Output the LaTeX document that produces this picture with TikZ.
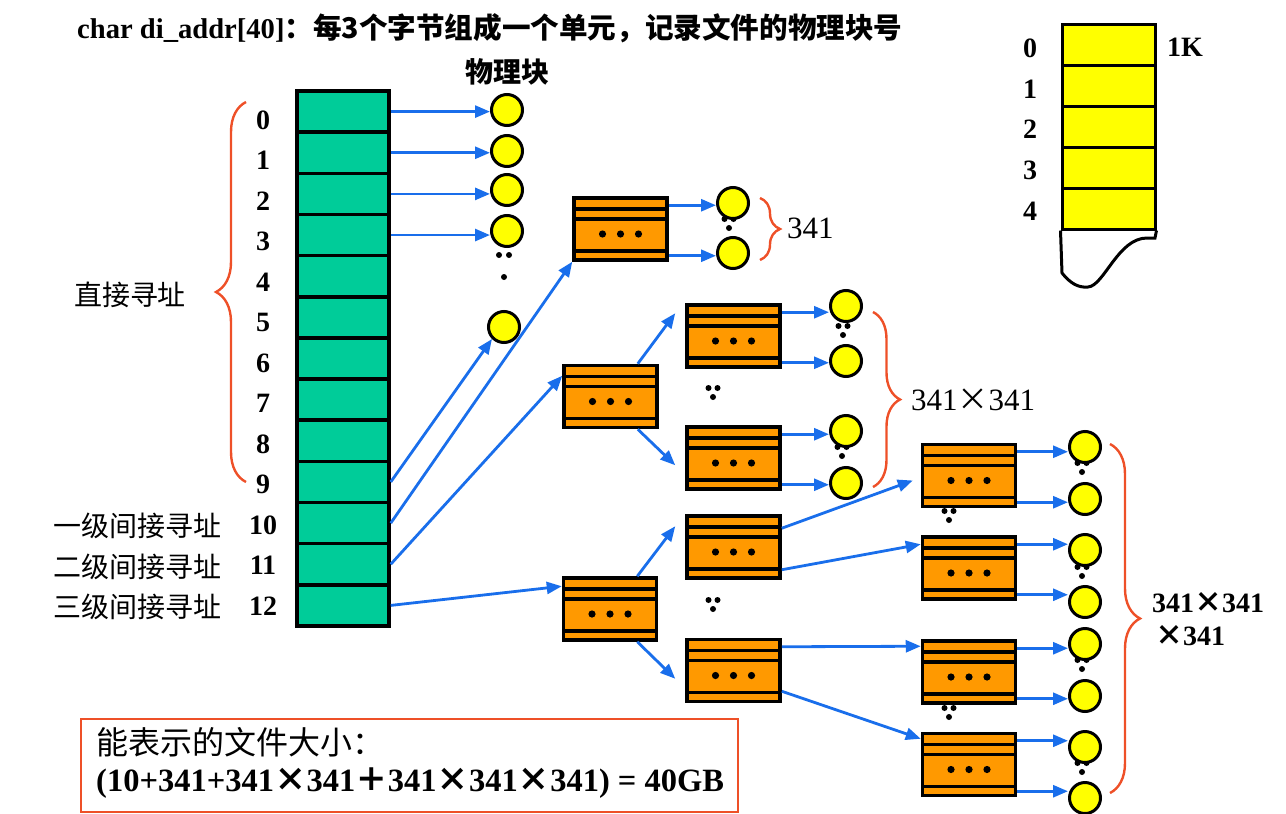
\documentclass[tikz,border=0pt]{standalone}
\usepackage{fontspec}
\setmainfont{Liberation Serif}
\newfontfamily\cjk{Noto Sans CJK SC}
\usetikzlibrary{
  arrows.meta, % Pfeilspitzen
  decorations.pathreplacing % Klammern
}
\definecolor{cellgreen}{RGB}{0,204,153}
\definecolor{blkorange}{RGB}{255,153,0}
\definecolor{blkyellow}{RGB}{255,255,0}
\definecolor{linkblue}{RGB}{25,110,235}
\definecolor{bracered}{RGB}{238,80,40}

\tikzset{
  vdots3/.pic={\fill[black] (-4.5,0) circle[radius=3pt] (4.5,0) circle[radius=3pt] (0,9) circle[radius=3pt];}
}

\begin{document}
\begin{tikzpicture}[
    x=1pt, y=-1pt, % Pixelkoordinaten
    >={Triangle[length=15pt,width=12pt]}, % Pfeilspitze
    cell/.style={draw, line width=3.5pt, fill=cellgreen, minimum width=92pt, minimum height=41.15pt, inner sep=0pt},
    ycell/.style={draw, line width=3pt, fill=blkyellow, minimum width=93pt, minimum height=41pt, inner sep=0pt},
    block/.style={circle, draw, line width=3pt, fill=blkyellow, minimum size=31pt, inner sep=0pt}, % physischer Block
    idxblock/.style={draw, line width=3.5pt, fill=blkorange, minimum width=93pt, minimum height=62pt, inner sep=0pt,
      path picture={
        \draw[black, line width=3.5pt]
          ([yshift=-11pt]path picture bounding box.north west) -- ([yshift=-11pt]path picture bounding box.north east)
          ([yshift=-21pt]path picture bounding box.north west) -- ([yshift=-21pt]path picture bounding box.north east)
          ([yshift=9pt]path picture bounding box.south west) -- ([yshift=9pt]path picture bounding box.south east);
        \foreach \d in {-18,0,18}
          \fill[black] ([shift={(\d pt,-5pt)}]path picture bounding box.center) circle[radius=3.6pt];
      }}, % Indexblock
    link/.style={->, linkblue, line width=2.8pt}, % Zeiger
    bracket/.style={bracered, line width=2.4pt, decorate, decoration={brace, amplitude=#1}},
    num/.style={inner sep=0pt, font=\fontsize{28}{30}\selectfont\bfseries},
    txt/.style={inner sep=0pt, font=\fontsize{28}{30}\selectfont\cjk},
  ]
  \useasboundingbox (0,0) rectangle (1286,814);

  % Titel
  \node[inner sep=0pt, anchor=west, font=\fontsize{28.6}{30}\selectfont\bfseries] (title) at (77,28)
    {char di\_addr[40]{\cjk ：每3个字节组成一个单元，记录文件的物理块号}};
  \node[inner sep=0pt, font=\fontsize{28}{30}\selectfont\bfseries\cjk] (wlk) at (507,72) {物理块};

  % Adressfeld di_addr
  \foreach \i in {0,...,12}
    \node[cell] (r\i) at (343, {111.6+41.15*\i}) {};
  \foreach \i in {0,...,12}
    \node[num] (n\i) at (263, {120+40.5*\i}) {\i};

  \node[txt] (direct) at (130,295) {直接寻址};
  \node[txt, anchor=east] (ind1) at (222,526) {一级间接寻址};
  \node[txt, anchor=east] (ind2) at (222,567) {二级间接寻址};
  \node[txt, anchor=east] (ind3) at (222,607) {三级间接寻址};
  \draw[bracket=30pt] (246,482) -- (246,102);

  % direkte Bloecke
  \fill (499,255) circle[radius=3pt] (509,255) circle[radius=3pt] (504,277) circle[radius=3pt];
  \node[block] (p0) at (507,110) {};
  \node[block] (p1) at (507,151) {};
  \node[block] (p2) at (507,190) {};
  \node[block] (p3) at (507,231) {};
  \node[block] (p4) at (504,327) {};
  \foreach \i in {0,...,3}
    \draw[link] (r\i.east) -- (r\i.east -| p\i.west);

  % Indexbloecke
  \node[idxblock] (s1) at (620.5,229) {};
  \node[idxblock] (d1) at (610.5,396.5) {};
  \node[idxblock] (d2) at (733.5,336) {};
  \node[idxblock] (d3) at (733.5,458) {};
  \node[idxblock] (t1) at (610,609) {};
  \node[idxblock] (t2) at (733.5,547) {};
  \node[idxblock] (t3) at (733.5,670.5) {};
  \node[idxblock] (u1) at (969,475.5) {};
  \node[idxblock] (u2) at (969,568) {};
  \node[idxblock] (u3) at (969,672) {};
  \node[idxblock] (u4) at (969,764.5) {};

  % Punkte
  \foreach \p in {(729,219), (843,326), (842,447), (713,388), (713,600),
                  (949,511), (949,708), (1082,463), (1082,567), (1082,660), (1082,763)}
    \pic at \p {vdots3};

  % Datenbloecke
  \node[block] (q0) at (733,203) {};
  \node[block] (q1) at (733,253) {};
  \node[block] (c0) at (846,306) {};
  \node[block] (c1) at (846,361) {};
  \node[block] (c2) at (846,431) {};
  \node[block] (c3) at (846,483) {};
  \foreach \k/\yy in {0/447, 1/499, 2/550, 3/602, 4/644, 5/696, 6/747, 7/798}
    \node[block] (v\k) at (1085,\yy) {};

  \foreach \bx/\m/\n in {s1/q0/q1, d2/c0/c1, d3/c2/c3, u1/v0/v1, u2/v2/v3, u3/v4/v5, u4/v6/v7}{
    \coordinate (\bx a) at ([yshift=-9pt]\bx.north east);
    \coordinate (\bx b) at ([yshift=6pt]\bx.south east);
    \draw[link] (\bx a) -- (\bx a -| \m.west);
    \draw[link] (\bx b) -- (\bx b -| \n.west);
  }

  % Zeiger aus di_addr
  \draw[link] (r9.east) -- (p4.south west);
  \draw[link] (r10.east) -- (s1.south west);
  \draw[link] (r11.east) -- ([yshift=-12pt]d1.north west);
  \draw[link] (r12.east) -- ([yshift=-10pt]t1.north west);

  % Zeiger zwischen Indexbloecken
  \draw[link] ([xshift=-21pt]d1.north east) -- ([shift={(-10pt,-10pt)}]d2.north west);
  \draw[link] ([xshift=-21pt]d1.south east) -- ([shift={(-10pt,-40pt)}]d3.north west);
  \draw[link] ([xshift=-21pt]t1.north east) -- ([shift={(-10pt,-12pt)}]t2.north west);
  \draw[link] ([xshift=-21pt]t1.south east) -- ([shift={(-10pt,-41pt)}]t3.north west);
  \draw[link] ([yshift=-14pt]t2.north east) -- ([shift={(-8pt,-5pt)}]u1.west);
  \draw[link] ([yshift=10pt]t2.south east) -- ([yshift=-9pt]u2.north west);
  \draw[link] ([yshift=-9pt]t3.north east) -- ([yshift=-7pt]u3.north west);
  \draw[link] ([yshift=12pt]t3.south east) -- ([yshift=-7pt]u4.north west);

  % Klammern
  \draw[bracket=20pt] (760,198) -- (760,260);
  \node[inner sep=0pt, anchor=west, font=\fontsize{31}{32}\selectfont] (cnt1) at (787,228) {341};
  \draw[bracket=27pt] (873,312) -- (873,487);
  \node[inner sep=0pt, anchor=west, font=\fontsize{31}{32}\selectfont] (cnt2) at (911,400) {341{\cjk ×}341};
  \draw[bracket=30pt] (1110,444) -- (1110,793);
  \node[inner sep=0pt, anchor=west, font=\fontsize{28}{30}\selectfont\bfseries] (cnt3) at (1152,603) {341{\cjk ×}341};
  \node[inner sep=0pt, anchor=west, font=\fontsize{28}{30}\selectfont\bfseries] (cnt3b) at (1155,636) {{\cjk ×}341};

  % Block mit 1K
  \foreach \i in {0,...,4}
    \node[ycell] (y\i) at (1108.5, {44.5+41*\i}) {};
  \foreach \i in {0,...,4}
    \node[num] (yl\i) at (1030, {48+40.8*\i}) {\i};
  \node[num, anchor=west] (kb) at (1167,47) {1K};
  \draw[line width=3pt] (y4.south west) -- (1062,273)
    .. controls (1070,283) and (1078,288) .. (1088,287)
    .. controls (1104,286) and (1118,238) .. (1147,238) -- (1155,238) -- (y4.south east);

  % Dateigroesse
  \node[draw=bracered, line width=2.2pt, minimum width=657pt, minimum height=93pt, inner sep=0pt] (sum) at (409.5,765.5) {};
  \node[inner sep=0pt, anchor=west, font=\fontsize{32}{34}\selectfont\cjk] (sum1) at (96,742) {能表示的文件大小：};
  \node[inner sep=0pt, anchor=west, font=\fontsize{32.5}{34}\selectfont\bfseries] (sum2) at (96,783)
    {(10+341+341{\cjk ×}341{\cjk ＋}341{\cjk ×}341{\cjk ×}341) = 40GB};
\end{tikzpicture}
\end{document}
